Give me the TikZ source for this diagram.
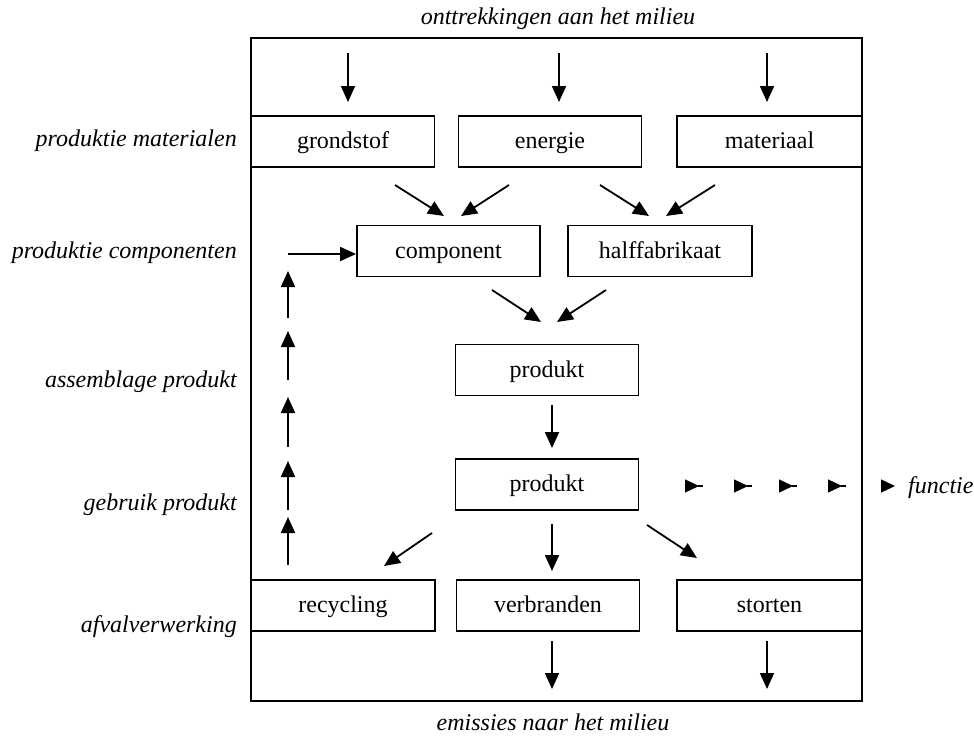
\documentclass[tikz,border=0pt]{standalone}
\usepackage{fontspec}
\setmainfont{Liberation Serif}
\usetikzlibrary{arrows.meta,calc}
\begin{document}
\begin{tikzpicture}[x=1pt,y=-1pt,
  box/.style={draw,line width=1.8pt,minimum width=183pt,minimum height=51pt,
    inner sep=0pt,text height=17pt,text depth=3pt,font=\fontsize{24}{28}\selectfont},
  lab/.style={inner sep=0pt,font=\fontsize{24}{28}\selectfont\itshape},
  flow/.style={line width=1.8pt,-{Triangle[length=16pt,width=14pt]}},
  tick/.style={line width=1.2pt,-{Triangle[length=14pt,width=13pt]}},
]
\useasboundingbox (0,0) rectangle (974,736);

% outer frame
\node[draw,line width=1.8pt,minimum width=611pt,minimum height=663pt,inner sep=0pt]
  (frame) at (556.5,369.5) {};

% stage labels
\node[lab,anchor=base] (intake) at (558,24) {onttrekkingen aan het milieu};
\node[lab,anchor=base] (emis) at (553,730) {emissies naar het milieu};
\node[lab,anchor=base east] (l1) at (237,146) {produktie materialen};
\node[lab,anchor=base east] (l2) at (237,258) {produktie componenten};
\node[lab,anchor=base east] (l3) at (237,387) {assemblage produkt};
\node[lab,anchor=base east] (l4) at (237,510) {gebruik produkt};
\node[lab,anchor=base east] (l5) at (237,632) {afvalverwerking};
\node[lab,anchor=base west] (fun) at (908,493) {functie};

% process boxes
\node[box] (grondstof) at (343,141.5) {grondstof};
\node[box] (energie) at (550,141.5) {energie};
\node[box,minimum width=185pt] (materiaal) at (769.5,141.5) {materiaal};
\node[box] (component) at (448.5,251) {component};
\node[box,minimum width=184pt] (halffab) at (660,251) {halffabrikaat};
\node[box] (produktA) at (547,370) {produkt};
\node[box] (produktB) at (547,484.5) {produkt};
\node[box,minimum width=184pt] (recycling) at (343,605.5) {recycling};
\node[box] (verbranden) at (548,605.5) {verbranden};
\node[box,minimum width=185pt] (storten) at (769.5,605.5) {storten};

% free ends of the connectors
\coordinate (in1) at (348,53);   \coordinate (in1e) at (348,102);
\coordinate (in2) at (559,53);   \coordinate (in2e) at (559,102);
\coordinate (in3) at (767,53);   \coordinate (in3e) at (767,102);
\coordinate (a1) at (395,185);   \coordinate (a1e) at (444,216);
\coordinate (a2) at (509,185);   \coordinate (a2e) at (461,216);
\coordinate (a3) at (600,185);   \coordinate (a3e) at (649,216);
\coordinate (a4) at (715,185);   \coordinate (a4e) at (666,216);
\coordinate (b1) at (492,290);   \coordinate (b1e) at (541,322);
\coordinate (b2) at (606,290);   \coordinate (b2e) at (557,322);
\coordinate (c1) at (552,405);   \coordinate (c1e) at (552,448);
\coordinate (d1) at (432,533);   \coordinate (d1e) at (384,566);
\coordinate (d2) at (552,524);   \coordinate (d2e) at (552,571);
\coordinate (d3) at (647,525);   \coordinate (d3e) at (697,558);
\coordinate (o1) at (552,641);   \coordinate (o1e) at (552,689);
\coordinate (o2) at (767,641);   \coordinate (o2e) at (767,689);
\coordinate (fb) at (288,254);

% inputs from the environment
\draw[flow] (in1) -- (in1e);
\draw[flow] (in2) -- (in2e);
\draw[flow] (in3) -- (in3e);

% materials to components
\draw[flow] (a1) -- (a1e);
\draw[flow] (a2) -- (a2e);
\draw[flow] (a3) -- (a3e);
\draw[flow] (a4) -- (a4e);

% components to product
\draw[flow] (b1) -- (b1e);
\draw[flow] (b2) -- (b2e);
\draw[flow] (c1) -- (c1e);

% product to waste processing
\draw[flow] (d1) -- (d1e);
\draw[flow] (d2) -- (d2e);
\draw[flow] (d3) -- (d3e);

% emissions
\draw[flow] (o1) -- (o1e);
\draw[flow] (o2) -- (o2e);

% recycling loop back to the components
\foreach \ya/\yb in {565/517, 510/461, 447/397, 380/331, 318/271}
  \draw[flow] (288,\ya) -- (288,\yb);
\draw[flow] (fb) -- (fb -| component.west);

% function delivered by the product
\foreach \xa in {686,735,780,829}{
  \draw[tick] (\xa,486) -- (\xa+13,486);
  \draw[line width=1.2pt] (\xa+12,486) -- (\xa+17,486);
}
\draw[tick] (881,486) -- (895,486);
\end{tikzpicture}
\end{document}
